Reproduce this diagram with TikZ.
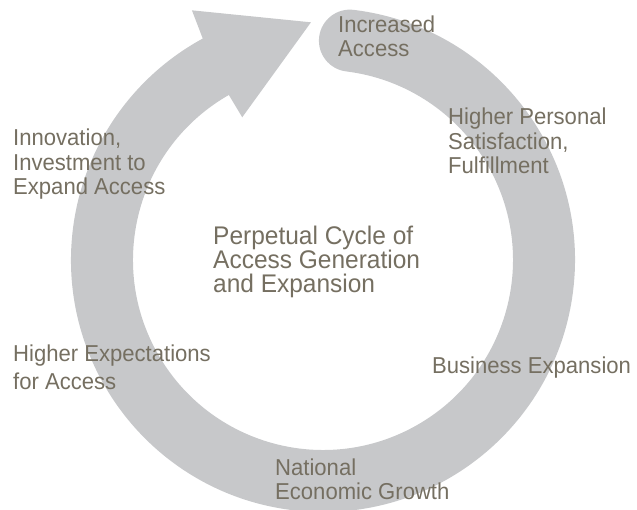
\documentclass[tikz,border=0pt]{standalone}
\usepackage{fontspec}
\setmainfont[FakeStretch=0.96]{Liberation Sans}
\usepackage{tikz}

\definecolor{ringgray}{RGB}{199,200,202}
\definecolor{labeltext}{RGB}{117,111,97}

\begin{document}
\begin{tikzpicture}[x=1pt,y=1pt,
		lbl/.style={anchor=base west,align=left,inner sep=0pt,text=labeltext,
			font=\fontsize{23}{24.5}\selectfont},
		ring/.style={fill=ringgray}]
		
		\useasboundingbox (-323,-250) rectangle (314,260);
		\coordinate (o) at (0,0);
		
		\fill[ring] (o) ++(83:252) arc[start angle=83,end angle=-241.5,radius=252]
			-- (117.7:282) -- (92.9:238) -- (119.5:164) -- (119.7:190)
			arc[start angle=-240.3,end angle=83,radius=190]
			arc[start angle=263,end angle=83,radius=31] -- cycle;
		
		\node[lbl] (l1) at (15,203) {Increased\\Access};
		\node[lbl] (l2) at (125,86) {Higher Personal\\Satisfaction,\\Fulfillment};
		\node[lbl] (l3) at (109,-114) {Business Expansion};
		\node[lbl] (l4) at (-48,-240) {National\\Economic Growth};
		\node[lbl,font=\fontsize{23}{28}\selectfont] (l5) at (-310,-130) {Higher Expectations\\for Access};
		\node[lbl] (l6) at (-310,65) {Innovation,\\Investment to\\Expand Access};
		
		\node[lbl,font=\fontsize{25.5}{24}\selectfont] (ctr) at (-110,-33)
			{Perpetual Cycle of\\Access Generation\\and Expansion};
\end{tikzpicture}
\end{document}
